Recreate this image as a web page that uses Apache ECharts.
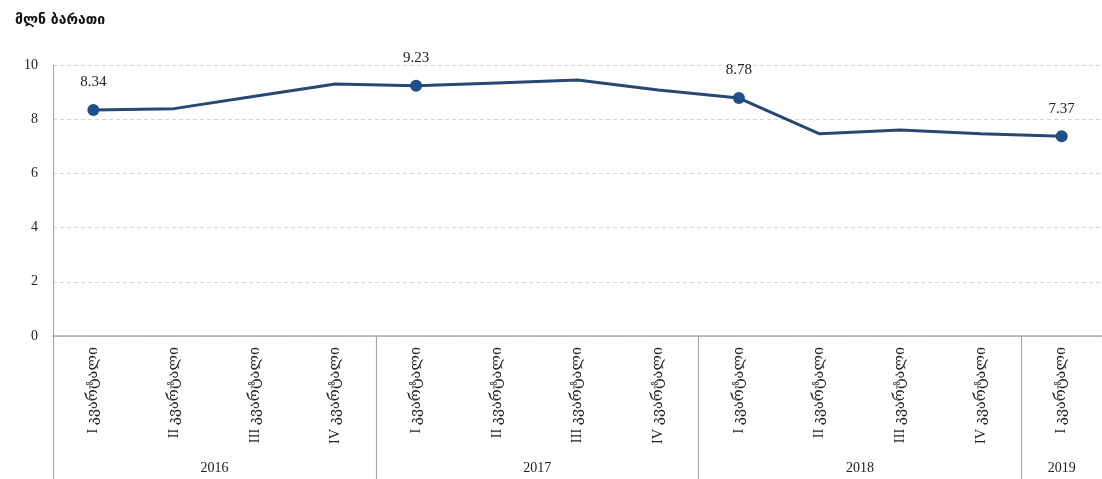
<!DOCTYPE html>
<html>
<head>
<meta charset="utf-8">
<script src="https://cdn.jsdelivr.net/npm/echarts@6/dist/echarts.min.js"></script>
<style>
  html, body { margin: 0; padding: 0; background: #fff; }
  #chart { width: 1102px; height: 479px; }
</style>
</head>
<body>
<div id="chart"></div>
<script>
// Payment cards in circulation, million cards, by quarter
const quarters = ['I კვარტალი', 'II კვარტალი', 'III კვარტალი', 'IV კვარტალი',
                  'I კვარტალი', 'II კვარტალი', 'III კვარტალი', 'IV კვარტალი',
                  'I კვარტალი', 'II კვარტალი', 'III კვარტალი', 'IV კვარტალი',
                  'I კვარტალი'];
const values = [8.34, 8.39, 8.85, 9.30, 9.23, 9.34, 9.45, 9.08, 8.78, 7.46, 7.60, 7.46, 7.37];
const years = ['2016', '2017', '2018', '2019'];
const quartersPerYear = [4, 4, 4, 1];
const yTicks = [0, 2, 4, 6, 8, 10];

// year group boundaries and centres on a 0..N scale
const bounds = [0];
quartersPerYear.forEach(n => bounds.push(bounds[bounds.length - 1] + n));
const centres = years.map((y, i) => (bounds[i] + bounds[i + 1]) / 2);

const serif = '"Liberation Serif", "DejaVu Serif", serif';
const gridColor = '#a9a9a9';

const chart = echarts.init(document.getElementById('chart'));
chart.setOption({
  animation: false,
  title: {
    text: 'მლნ ბარათი',
    left: 10, top: 8,
    textStyle: { fontFamily: '"DejaVu Sans", sans-serif', fontSize: 14, fontWeight: 'bold', color: '#111' }
  },
  grid: { left: 53, right: -1, top: 65, bottom: 143 },
  xAxis: [
    {
      type: 'category',
      data: quarters,
      boundaryGap: true,
      axisLine: { lineStyle: { color: gridColor, width: 1.5 } },
      axisTick: { show: false },
      axisLabel: {
        interval: 0, rotate: 90, margin: 11,
        fontFamily: serif, fontSize: 14.5, color: '#222'
      },
      splitLine: { show: false }
    },
    {
      type: 'value',
      position: 'bottom',
      min: 0, max: quarters.length,
      axisLine: { show: false },
      axisTick: {
        show: true, length: 143,
        customValues: bounds.slice(0, -1),
        lineStyle: { color: gridColor, width: 1.2 }
      },
      axisLabel: {
        customValues: centres,
        margin: 125,
        fontFamily: serif, fontSize: 14, color: '#222',
        formatter: v => years[centres.indexOf(v)]
      },
      splitLine: { show: false }
    }
  ],
  yAxis: {
    type: 'value',
    min: yTicks[0], max: yTicks[yTicks.length - 1], interval: 2,
    axisLine: { show: true, lineStyle: { color: gridColor, width: 1.2 } },
    axisTick: { show: false },
    axisLabel: { margin: 15, fontFamily: serif, fontSize: 14, color: '#222' },
    splitLine: { lineStyle: { color: '#d4d4d4', type: [4, 3], width: 1 } }
  },
  series: [{
    type: 'line',
    data: values,
    xAxisIndex: 0,
    symbol: 'circle',
    symbolSize: (v, p) => (p.dataIndex % 4 === 0 ? 12 : 0),
    showAllSymbol: true,
    lineStyle: { color: '#284772', width: 3 },
    itemStyle: { color: '#1f4e8a' },
    label: {
      show: true, position: 'top', distance: 14,
      fontFamily: serif, fontSize: 15, color: '#222',
      formatter: p => (p.dataIndex % 4 === 0 ? p.value.toFixed(2) : '')
    },
    z: 5
  }]
});
</script>
</body>
</html>
